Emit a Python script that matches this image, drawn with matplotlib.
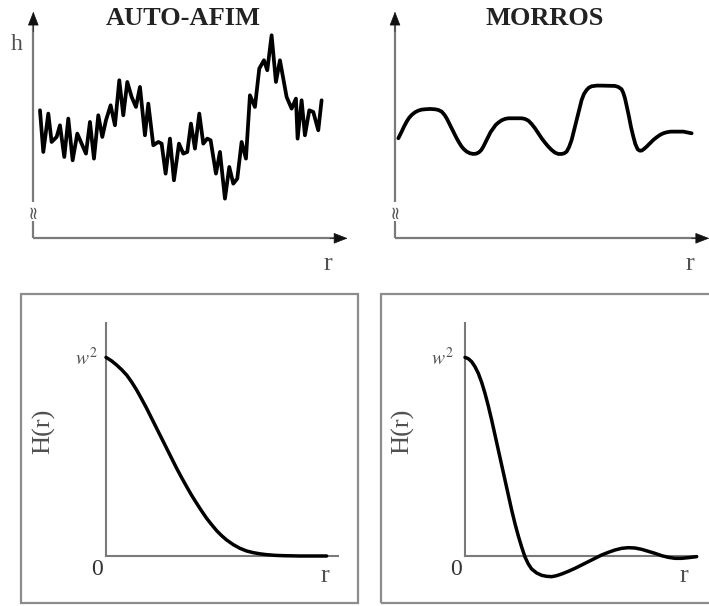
import matplotlib
matplotlib.use("Agg")
import matplotlib.pyplot as plt
from matplotlib.patches import Rectangle

plt.rcParams['font.family'] = ['Liberation Serif', 'DejaVu Serif']
plt.rcParams['mathtext.fontset'] = 'stix'

# ---- data (arbitrary units) ----
titles = ["AUTO-AFIM", "MORROS"]

rough_r = [2.0, 3.0, 4.5, 5.5, 7.0, 8.0, 9.3, 10.5, 11.8, 13.2, 14.5, 15.8, 17.0, 18.2,
           19.5, 20.7, 21.8, 23.2, 24.5, 25.8, 27.0, 28.2, 29.5, 30.8, 32.0, 33.5, 34.5,
           36.0, 37.5, 38.5, 39.7, 41.0, 42.2, 43.7, 45.0, 46.2, 47.3, 48.5, 49.8, 51.0,
           52.2, 53.2, 54.8, 56.0, 57.5, 58.8, 60.0, 61.2, 62.5, 63.8, 65.0, 66.5, 67.8,
           69.2, 70.2, 71.5, 72.8, 74.0, 76.0, 77.5, 78.8, 79.3, 80.5, 81.5, 82.8, 84.0,
           85.5, 86.5]
rough_h = [38.4, 25.9, 37.4, 28.9, 30.4, 33.9, 24.4, 35.9, 23.4, 31.4, 28.4, 25.4, 34.9, 23.9,
           36.9, 30.4, 35.4, 39.9, 33.9, 47.4, 36.9, 46.9, 42.4, 39.4, 45.4, 30.9, 40.4,
           27.9, 28.9, 28.4, 19.4, 29.9, 17.4, 28.4, 25.4, 25.9, 34.4, 26.9, 37.4, 28.4,
           29.9, 29.4, 19.4, 25.9, 11.9, 21.4, 16.4, 17.9, 28.9, 23.9, 42.9, 39.4, 50.9,
           53.4, 50.4, 60.9, 46.9, 53.4, 42.4, 38.9, 41.9, 29.9, 41.4, 30.9, 38.4, 37.9,
           32.4, 41.4]

mound_r = [1.0, 1.5, 2.0, 2.7, 3.5, 4.2, 5.0, 6.0, 7.0, 8.0, 9.0, 10.5, 12.0, 13.0, 14.0,
           14.8, 15.5, 16.2, 17.0, 17.8, 18.5, 19.3, 20.0, 20.7, 21.5, 22.5, 23.5, 24.4,
           25.2, 25.9, 26.5, 27.2, 28.0, 28.7, 29.5, 30.2, 31.0, 32.0, 33.0, 34.0, 35.0,
           38.0, 39.0, 40.0, 41.0, 42.0, 43.0, 44.0, 45.0, 46.0, 47.0, 48.0, 49.0, 50.0,
           50.8, 51.5, 52.2, 53.0, 53.7, 54.5, 55.3, 56.0, 56.7, 57.5, 58.2, 59.0, 60.5,
           62.0, 66.0, 67.0, 68.0, 68.5, 69.0, 69.6, 70.2, 70.8, 71.5, 72.1, 72.8, 73.4,
           74.0, 74.7, 75.5, 76.5, 77.5, 78.5, 79.5, 80.5, 81.5, 82.7, 84.0, 86.5, 89.0]
mound_h = [30.0, 31.0, 32.0, 33.5, 35.0, 36.1, 37.0, 37.8, 38.3, 38.6, 38.7, 38.8, 38.7,
           38.5, 38.0, 37.1, 36.0, 34.6, 33.0, 31.4, 30.0, 28.6, 27.5, 26.7, 26.0, 25.5,
           25.3, 25.4, 25.8, 26.5, 27.5, 28.9, 30.5, 31.9, 33.0, 34.0, 34.7, 35.4, 35.8,
           36.0, 36.0, 36.0, 35.8, 35.3, 34.3, 33.0, 31.5, 30.0, 28.7, 27.5, 26.5, 25.7,
           25.3, 25.3, 25.5, 26.0, 27.3, 29.5, 32.3, 35.5, 38.7, 41.5, 43.3, 44.5, 45.2,
           45.6, 45.8, 45.8, 45.7, 45.4, 44.7, 43.6, 42.0, 39.3, 36.5, 33.4, 30.5, 28.3,
           26.7, 26.3, 26.3, 26.8, 27.5, 28.5, 29.5, 30.3, 31.0, 31.5, 31.8, 32.0, 32.0,
           32.0, 31.5]

corr1_r = [0, 1.6, 3.2, 4.7, 6.2, 7.7, 9.2, 10.7, 12.2, 13.7, 15.2, 16.7, 18.2, 19.7, 21.2,
           22.7, 24.2, 25.7, 27.2, 28.7, 30.2, 31.7, 33.2, 34.7, 36.2, 38.2, 40.2, 42.2,
           44.2, 46.2, 48.2, 50.7, 53.2, 58.2, 66.2]
corr1_H = [59.6, 58.6, 57.3, 55.9, 54.3, 52.2, 49.8, 47.1, 44.3, 41.3, 38.3, 35.3, 32.3,
           29.3, 26.3, 23.5, 20.8, 18.2, 15.8, 13.5, 11.3, 9.4, 7.6, 6.1, 4.8, 3.4, 2.3,
           1.5, 1.0, 0.65, 0.4, 0.2, 0.1, 0.0, 0.0]

corr2_r = [0, 1, 2, 3, 4, 5, 6, 7, 8, 9, 10, 11, 12, 13, 14, 15, 16, 17, 18, 19, 20, 21.5,
           23, 24.5, 26, 27.5, 29, 31, 33, 35, 37, 39, 41, 43, 45, 47, 49, 51, 53, 55, 57,
           59, 61, 63, 65, 67, 69.5]
corr2_H = [59.6, 59.2, 58.3, 56.8, 54.8, 52.1, 48.8, 45.0, 40.8, 36.3, 31.8, 27.3, 22.8,
           18.3, 13.8, 9.7, 6.0, 2.7, -0.3, -2.4, -3.9, -5.1, -5.8, -6.1, -6.2, -5.9, -5.4,
           -4.6, -3.7, -2.7, -1.7, -0.7, 0.3, 1.1, 1.8, 2.3, 2.5, 2.4, 2.0, 1.4, 0.8, 0.1,
           -0.4, -0.7, -0.7, -0.5, -0.2]

W, H = 709, 606
fig = plt.figure(figsize=(W / 100, H / 100), dpi=100)
fig.patch.set_facecolor('white')

AX_C = '#7a7a7a'
TXT_C = '#505050'


def px_axes(x0, y_bottom, w, h):
    return fig.add_axes([x0 / W, 1 - y_bottom / H, w / W, h / H])


def arrow(ax, xy_from, xy_to):
    ax.annotate('', xy=xy_to, xytext=xy_from,
                arrowprops=dict(arrowstyle='-|>,head_length=0.9,head_width=0.35',
                                color='#111111', lw=0.5, shrinkA=0, shrinkB=0),
                annotation_clip=False)


def top_panel(ax, r, h, title, ylabel):
    ax.set_xlim(0, 94)
    ax.set_ylim(0, 68)
    ax.set_axis_off()
    ax.plot([0, 0], [0, 5.3], color=AX_C, lw=1.6, clip_on=False, solid_capstyle='butt')
    ax.plot([0, 0], [11.0, 64], color=AX_C, lw=1.6, clip_on=False, solid_capstyle='butt')
    ax.plot([0, 91], [0, 0], color=AX_C, lw=1.6, clip_on=False, solid_capstyle='butt')
    arrow(ax, (0, 62), (0, 68))
    arrow(ax, (89, 0), (94.3, 0))
    ax.text(0, 8.2, '≈', ha='center', va='center', fontsize=13, color='#555555',
            rotation=90, clip_on=False, family='DejaVu Sans')
    ax.plot(r, h, color='black', lw=2.7, solid_joinstyle='round', solid_capstyle='round',
            clip_on=False)
    ax.text(45, 65.9, title, ha='center', va='center', fontsize=19, fontweight='bold',
            color='#222222')
    ax.text(88.5, -7.6, 'r', ha='center', va='center', fontsize=19, color=TXT_C,
            clip_on=False)
    if ylabel:
        ax.text(-4.9, 58.0, ylabel, ha='center', va='center', fontsize=17, color=TXT_C,
                clip_on=False)


def bottom_panel(ax, r, Hv, wx):
    ax.set_xlim(0, 70)
    ax.set_ylim(0, 70)
    ax.set_axis_off()
    ax.plot([0, 0], [0, 70], color=AX_C, lw=1.5, clip_on=False)
    ax.plot([0, 69.7], [0, 0], color=AX_C, lw=1.5, clip_on=False)
    ax.plot(r, Hv, color='black', lw=2.5, clip_on=False, solid_capstyle='round',
            solid_joinstyle='round')
    ax.text(wx, 59.5, r'$w^2$', ha='right', va='center', fontsize=14, color=TXT_C,
            clip_on=False)
    ax.text(-2.6, -4.0, '0', ha='center', va='center', fontsize=17, color='#333333',
            clip_on=False)
    ax.text(65.8, -6.1, 'r', ha='center', va='center', fontsize=19, color=TXT_C,
            clip_on=False)
    ax.text(-18.6, 37.5, 'H(r)', ha='center', va='center', fontsize=19, color=TXT_C,
            rotation=90, clip_on=False)


ax1 = px_axes(33.3, 238.3, 313.3, 226.7)
top_panel(ax1, rough_r, rough_h, titles[0], 'h')
ax2 = px_axes(395, 238.3, 313.3, 226.7)
top_panel(ax2, mound_r, mound_h, titles[1], None)

fig.patches.append(Rectangle((21 / W, 1 - 603 / H), (358 - 21) / W, (603 - 294) / H,
                             transform=fig.transFigure, fill=False, ec='#8c8c8c', lw=1.6))
fig.patches.append(Rectangle((381 / W, 1 - 603 / H), (715 - 381) / W, (603 - 294) / H,
                             transform=fig.transFigure, fill=False, ec='#8c8c8c', lw=1.6))

ax3 = px_axes(106, 556, 233.3, 233.3)
bottom_panel(ax3, corr1_r, corr1_H, -2.5)
ax4 = px_axes(465, 556, 233.3, 233.3)
bottom_panel(ax4, corr2_r, corr2_H, -3.5)

fig.savefig('out.png', dpi=100)
